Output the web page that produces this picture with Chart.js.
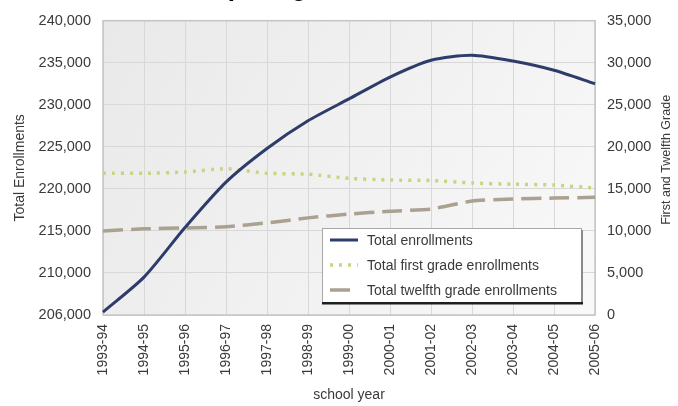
<!DOCTYPE html>
<html>
<head>
<meta charset="utf-8">
<script src="https://cdn.jsdelivr.net/npm/chart.js@4"></script>
<style>
  html, body { margin: 0; padding: 0; background: #fff; }
  #wrap { position: relative; width: 678px; height: 406px; overflow: hidden; }
  #heading {
    position: absolute; left: 170px; top: -26px; margin: 0;
    font: bold 26px "Liberation Sans", Arial, sans-serif; line-height: 26px;
    color: #000; white-space: nowrap;
  }
  canvas { position: absolute; left: 0; top: 0; }
</style>
</head>
<body>
<div id="wrap">
  <canvas id="chart" width="678" height="406"></canvas>
  <div id="heading">Comparing Enrollments</div>
</div>
<script>
// School years on the category axis
const schoolYears = ['1993-94','1994-95','1995-96','1996-97','1997-98','1998-99','1999-00',
                     '2000-01','2001-02','2002-03','2003-04','2004-05','2005-06'];

// Total enrollments (left axis)
const totalEnrollments = [205350, 209500, 215400, 220800, 224800, 228100, 230700,
                          233300, 235300, 235900, 235200, 234100, 232500];

// First grade enrollments (right axis)
const firstGrade = [16850, 16850, 17000, 17400, 16850, 16750, 16250,
                    16050, 16000, 15700, 15550, 15450, 15100];

// Twelfth grade enrollments (right axis)
const twelfthGrade = [10000, 10250, 10350, 10500, 10950, 11550, 12000,
                      12350, 12600, 13550, 13800, 13900, 14000];

// Tick labels, bottom to top
const leftTickLabels = ['206,000','210,000','215,000','220,000','225,000','230,000','235,000','240,000'];
const rightTickLabels = ['0','5,000','10,000','15,000','20,000','25,000','30,000','35,000'];

const FONT = '"Liberation Sans", Arial, sans-serif';
const TEXT = '#3a3a3a';

// Shaded plot background and frame
const plotBackground = {
  id: 'plotBackground',
  beforeDraw(chart) {
    const {ctx, chartArea: a} = chart;
    const g = ctx.createLinearGradient(a.left, a.top, a.right, a.bottom);
    g.addColorStop(0, '#e9e9e9');
    g.addColorStop(1, '#f9f9f9');
    ctx.save();
    ctx.fillStyle = g;
    ctx.fillRect(a.left, a.top, a.right - a.left, a.bottom - a.top);
    ctx.restore();
  },
  beforeDatasetsDraw(chart) {
    const {ctx, chartArea: a} = chart;
    ctx.save();
    ctx.strokeStyle = '#c4c4c4';
    ctx.lineWidth = 1.5;
    ctx.strokeRect(a.left, a.top, a.right - a.left, a.bottom - a.top);
    ctx.restore();
  }
};

// Right-hand axis title, read bottom to top
const rightTitle = {
  id: 'rightTitle',
  afterDraw(chart) {
    const {ctx, chartArea: a} = chart;
    ctx.save();
    ctx.translate(667, (a.top + a.bottom) / 2 - 8);
    ctx.rotate(-Math.PI / 2);
    ctx.fillStyle = TEXT;
    ctx.font = '12.5px ' + FONT;
    ctx.textAlign = 'center';
    ctx.textBaseline = 'middle';
    ctx.fillText('First and Twelfth Grade', 0, 0);
    ctx.restore();
  }
};

// Legend box inside the plot area
const insetLegend = {
  id: 'insetLegend',
  afterDraw(chart) {
    const {ctx} = chart;
    const x0 = 322, y0 = 228, w = 259, h = 74;
    ctx.save();
    ctx.fillStyle = '#ffffff';
    ctx.fillRect(x0, y0, w, h);
    ctx.strokeStyle = '#a8a8a8';
    ctx.lineWidth = 1;
    ctx.strokeRect(x0 + 0.5, y0 + 0.5, w, h);
    // drop shadow along right and bottom edges
    ctx.fillStyle = '#8a8a8a';
    ctx.fillRect(x0 + w, y0 + 2, 2, h);
    ctx.fillStyle = '#1e1e1e';
    ctx.fillRect(x0, y0 + h, w + 2, 2.5);
    chart.data.datasets.forEach((ds, i) => {
      const y = y0 + 12 + i * 25;
      ctx.beginPath();
      ctx.setLineDash(ds.borderDash || []);
      ctx.strokeStyle = ds.borderColor;
      ctx.lineWidth = ds.borderWidth;
      ctx.moveTo(330, y);
      ctx.lineTo(358, y);
      ctx.stroke();
      ctx.setLineDash([]);
      ctx.fillStyle = TEXT;
      ctx.font = '14px ' + FONT;
      ctx.textBaseline = 'middle';
      ctx.fillText(ds.label, 367, y + 1);
    });
    ctx.restore();
  }
};

new Chart(document.getElementById('chart'), {
  type: 'line',
  data: {
    labels: schoolYears,
    datasets: [
      {
        label: 'Total enrollments',
        data: totalEnrollments,
        yAxisID: 'y',
        borderColor: '#2d3c6b',
        borderWidth: 3,
        tension: 0.25,
        pointRadius: 0
      },
      {
        label: 'Total first grade enrollments',
        data: firstGrade,
        yAxisID: 'y1',
        borderColor: '#c9d47c',
        borderWidth: 3.5,
        borderDash: [3, 6],
        tension: 0.2,
        pointRadius: 0
      },
      {
        label: 'Total twelfth grade enrollments',
        data: twelfthGrade,
        yAxisID: 'y1',
        borderColor: '#aaa190',
        borderWidth: 3.5,
        borderDash: [20, 8],
        tension: 0.2,
        pointRadius: 0
      }
    ]
  },
  options: {
    responsive: false,
    animation: false,
    layout: { padding: { top: 17, left: 0, right: 0, bottom: 0 } },
    plugins: { legend: { display: false }, tooltip: { enabled: false } },
    scales: {
      x: {
        offset: false,
        grid: { color: '#d8d8d8', drawTicks: false },
        border: { display: false },
        ticks: {
          minRotation: 90, maxRotation: 90, padding: 9, autoSkip: false,
          color: TEXT, font: { family: FONT, size: 14 }
        },
        title: {
          display: true, text: 'school year', color: TEXT,
          font: { family: FONT, size: 14 }, padding: { top: 0, bottom: 2 }
        },
        afterFit(s) { s.height = 91; }
      },
      y: {
        position: 'left',
        min: 205000, max: 240000,
        grid: { color: '#d8d8d8', drawTicks: false },
        border: { display: false },
        ticks: {
          stepSize: 5000, padding: 12, color: TEXT,
          font: { family: FONT, size: 14.5 },
          callback: (v, i) => leftTickLabels[i]
        },
        title: {
          display: true, text: 'Total Enrollments', color: TEXT,
          font: { family: FONT, size: 14 }, padding: { top: 12, bottom: 0 }
        },
        afterFit(s) { s.width = 103; }
      },
      y1: {
        position: 'right',
        min: 0, max: 35000,
        grid: { drawOnChartArea: false, drawTicks: false },
        border: { display: false },
        ticks: {
          stepSize: 5000, padding: 12, color: TEXT,
          font: { family: FONT, size: 14.5 },
          callback: (v, i) => rightTickLabels[i]
        },
        afterFit(s) { s.width = 83; }
      }
    }
  },
  plugins: [plotBackground, rightTitle, insetLegend]
});
</script>
</body>
</html>
